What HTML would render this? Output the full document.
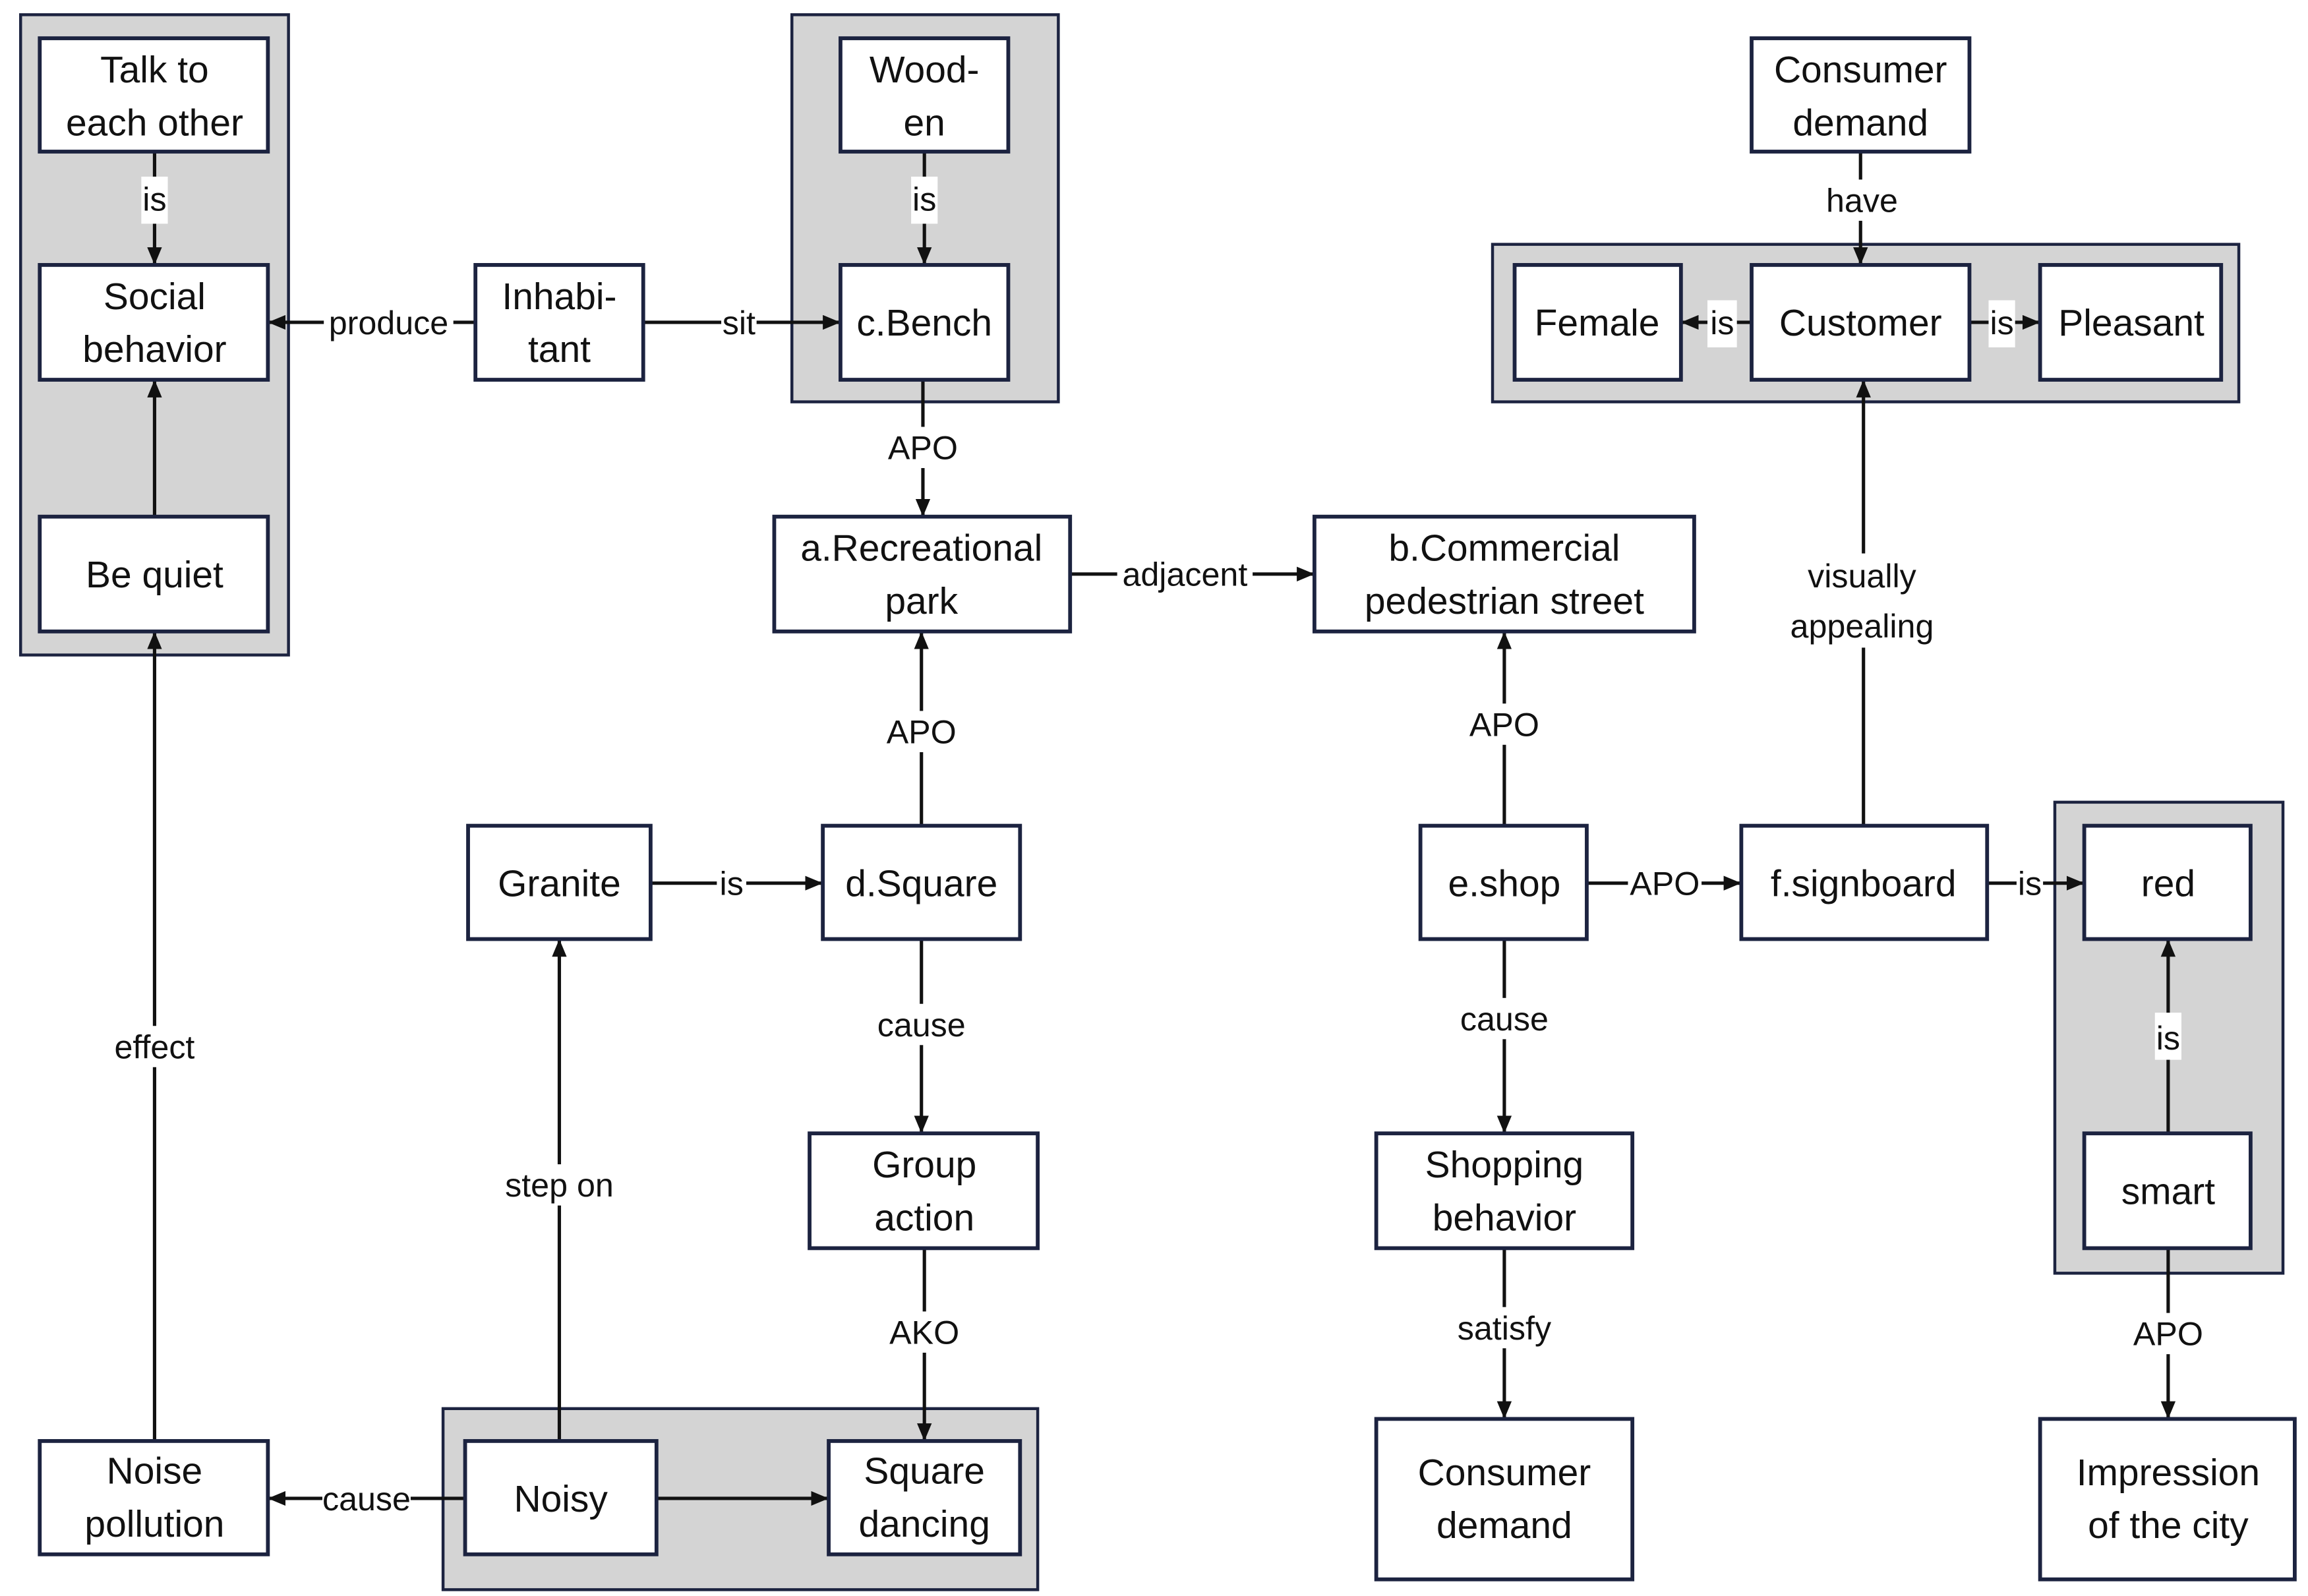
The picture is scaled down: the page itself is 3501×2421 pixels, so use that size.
<!DOCTYPE html>
<html><head><meta charset="utf-8"><style>
html,body{margin:0;padding:0;background:#fff;}
svg{display:block;}
.g{fill:#d4d4d4;stroke:#1c2340;stroke-width:2;}
.n{fill:#fff;stroke:#1c2340;stroke-width:2.6;}
.t{font-family:"Liberation Sans",sans-serif;font-size:25.5px;fill:#111;text-anchor:middle;}
.l{font-family:"Liberation Sans",sans-serif;font-size:22.5px;fill:#111;text-anchor:middle;}
.e{stroke:#111;stroke-width:2.3;fill:none;}
.lb{fill:#fff;}
</style></head><body>
<svg width="3501" height="2421" viewBox="0 0 1568 1084.3" preserveAspectRatio="none">
<defs>
<marker id="b" viewBox="0 0 12 10" refX="12" refY="5" markerWidth="12" markerHeight="10" orient="auto" markerUnits="userSpaceOnUse"><path d="M0,0L12,5L0,10z" fill="#111"/></marker></defs>
<rect class="g" x="14" y="10" width="182" height="435"/>
<rect class="g" x="538" y="10" width="181" height="263"/>
<rect class="g" x="1014" y="166" width="507" height="107"/>
<rect class="g" x="1396" y="545" width="155" height="320"/>
<rect class="g" x="301" y="957" width="404" height="123"/>
<g class="e">
<line x1="105" y1="103" x2="105" y2="180" marker-end="url(#b)"/>
<line x1="105" y1="351" x2="105" y2="258" marker-end="url(#b)"/>
<line x1="105" y1="979" x2="105" y2="429" marker-end="url(#b)"/>
<line x1="323" y1="219" x2="182" y2="219" marker-end="url(#b)"/>
<line x1="437" y1="219" x2="571" y2="219" marker-end="url(#b)"/>
<line x1="628" y1="103" x2="628" y2="180" marker-end="url(#b)"/>
<line x1="627" y1="258" x2="627" y2="351" marker-end="url(#b)"/>
<line x1="727" y1="390" x2="893" y2="390" marker-end="url(#b)"/>
<line x1="626" y1="561" x2="626" y2="429" marker-end="url(#b)"/>
<line x1="442" y1="600" x2="559" y2="600" marker-end="url(#b)"/>
<line x1="626" y1="638" x2="626" y2="770" marker-end="url(#b)"/>
<line x1="628" y1="848" x2="628" y2="979" marker-end="url(#b)"/>
<line x1="380" y1="979" x2="380" y2="638" marker-end="url(#b)"/>
<line x1="316" y1="1018" x2="182" y2="1018" marker-end="url(#b)"/>
<line x1="446" y1="1018" x2="563" y2="1018" marker-end="url(#b)"/>
<line x1="1022" y1="561" x2="1022" y2="429" marker-end="url(#b)"/>
<line x1="1078" y1="600" x2="1183" y2="600" marker-end="url(#b)"/>
<line x1="1022" y1="638" x2="1022" y2="770" marker-end="url(#b)"/>
<line x1="1022" y1="848" x2="1022" y2="964" marker-end="url(#b)"/>
<line x1="1266" y1="561" x2="1266" y2="258" marker-end="url(#b)"/>
<line x1="1350" y1="600" x2="1416" y2="600" marker-end="url(#b)"/>
<line x1="1473" y1="770" x2="1473" y2="638" marker-end="url(#b)"/>
<line x1="1473" y1="848" x2="1473" y2="964" marker-end="url(#b)"/>
<line x1="1264" y1="103" x2="1264" y2="180" marker-end="url(#b)"/>
<line x1="1190" y1="219" x2="1142" y2="219" marker-end="url(#b)"/>
<line x1="1338" y1="219" x2="1386" y2="219" marker-end="url(#b)"/>
</g>
<g class="lb">
<rect x="96" y="120" width="18" height="32"/>
<rect x="619" y="120" width="18" height="32"/>
<rect x="220" y="206" width="88" height="28"/>
<rect x="490" y="206" width="24" height="28"/>
<rect x="600" y="290" width="54" height="28"/>
<rect x="759" y="376" width="92" height="28"/>
<rect x="600" y="483" width="54" height="28"/>
<rect x="487" y="586" width="20" height="28"/>
<rect x="594" y="682" width="64" height="28"/>
<rect x="601" y="891" width="54" height="28"/>
<rect x="340" y="791" width="80" height="28"/>
<rect x="75" y="697" width="62" height="28"/>
<rect x="219" y="1004" width="60" height="28"/>
<rect x="996" y="478" width="52" height="28"/>
<rect x="1106" y="586" width="50" height="28"/>
<rect x="989" y="678" width="66" height="28"/>
<rect x="988" y="888" width="68" height="28"/>
<rect x="1210" y="376" width="112" height="64"/>
<rect x="1370" y="586" width="18" height="28"/>
<rect x="1464" y="688" width="18" height="32"/>
<rect x="1447" y="892" width="52" height="28"/>
<rect x="1238" y="122" width="54" height="28"/>
<rect x="1160" y="204" width="20" height="32"/>
<rect x="1351" y="204" width="18" height="32"/>
</g>
<g class="l">
<text x="105" y="143">is</text>
<text x="628" y="143">is</text>
<text x="264" y="227">produce</text>
<text x="502" y="227">sit</text>
<text x="627" y="312">APO</text>
<text x="805" y="398">adjacent</text>
<text x="626" y="505">APO</text>
<text x="497" y="608">is</text>
<text x="626" y="704">cause</text>
<text x="628" y="913">AKO</text>
<text x="380" y="813">step on</text>
<text x="105" y="719">effect</text>
<text x="249" y="1026">cause</text>
<text x="1022" y="500">APO</text>
<text x="1131" y="608">APO</text>
<text x="1022" y="700">cause</text>
<text x="1022" y="910">satisfy</text>
<text x="1265" y="399">visually</text>
<text x="1265" y="433">appealing</text>
<text x="1379" y="608">is</text>
<text x="1473" y="713">is</text>
<text x="1473" y="914">APO</text>
<text x="1265" y="144">have</text>
<text x="1170" y="227">is</text>
<text x="1360" y="227">is</text>
</g>
<g>
<rect class="n" x="27" y="26" width="155" height="77"/>
<rect class="n" x="27" y="180" width="155" height="78"/>
<rect class="n" x="27" y="351" width="155" height="78"/>
<rect class="n" x="323" y="180" width="114" height="78"/>
<rect class="n" x="571" y="26" width="114" height="77"/>
<rect class="n" x="571" y="180" width="114" height="78"/>
<rect class="n" x="1190" y="26" width="148" height="77"/>
<rect class="n" x="1029" y="180" width="113" height="78"/>
<rect class="n" x="1190" y="180" width="148" height="78"/>
<rect class="n" x="1386" y="180" width="123" height="78"/>
<rect class="n" x="526" y="351" width="201" height="78"/>
<rect class="n" x="893" y="351" width="258" height="78"/>
<rect class="n" x="318" y="561" width="124" height="77"/>
<rect class="n" x="559" y="561" width="134" height="77"/>
<rect class="n" x="965" y="561" width="113" height="77"/>
<rect class="n" x="1183" y="561" width="167" height="77"/>
<rect class="n" x="1416" y="561" width="113" height="77"/>
<rect class="n" x="550" y="770" width="155" height="78"/>
<rect class="n" x="935" y="770" width="174" height="78"/>
<rect class="n" x="1416" y="770" width="113" height="78"/>
<rect class="n" x="27" y="979" width="155" height="77"/>
<rect class="n" x="316" y="979" width="130" height="77"/>
<rect class="n" x="563" y="979" width="130" height="77"/>
<rect class="n" x="935" y="964" width="174" height="109"/>
<rect class="n" x="1386" y="964" width="173" height="109"/>
</g>
<g class="t">
<text x="105" y="56">Talk to</text><text x="105" y="92">each other</text>
<text x="105" y="210">Social</text><text x="105" y="246">behavior</text>
<text x="105" y="399">Be quiet</text>
<text x="380" y="210">Inhabi-</text><text x="380" y="246">tant</text>
<text x="628" y="56">Wood-</text><text x="628" y="92">en</text>
<text x="628" y="228">c.Bench</text>
<text x="1264" y="56">Consumer</text><text x="1264" y="92">demand</text>
<text x="1085" y="228">Female</text>
<text x="1264" y="228">Customer</text>
<text x="1448" y="228">Pleasant</text>
<text x="626" y="381">a.Recreational</text><text x="626" y="417">park</text>
<text x="1022" y="381">b.Commercial</text><text x="1022" y="417">pedestrian street</text>
<text x="380" y="609">Granite</text>
<text x="626" y="609">d.Square</text>
<text x="1022" y="609">e.shop</text>
<text x="1266" y="609">f.signboard</text>
<text x="1473" y="609">red</text>
<text x="628" y="800">Group</text><text x="628" y="836">action</text>
<text x="1022" y="800">Shopping</text><text x="1022" y="836">behavior</text>
<text x="1473" y="818">smart</text>
<text x="105" y="1008">Noise</text><text x="105" y="1044">pollution</text>
<text x="381" y="1027">Noisy</text>
<text x="628" y="1008">Square</text><text x="628" y="1044">dancing</text>
<text x="1022" y="1009">Consumer</text><text x="1022" y="1045">demand</text>
<text x="1473" y="1009">Impression</text><text x="1473" y="1045">of the city</text>
</g>
</svg>
</body></html>
